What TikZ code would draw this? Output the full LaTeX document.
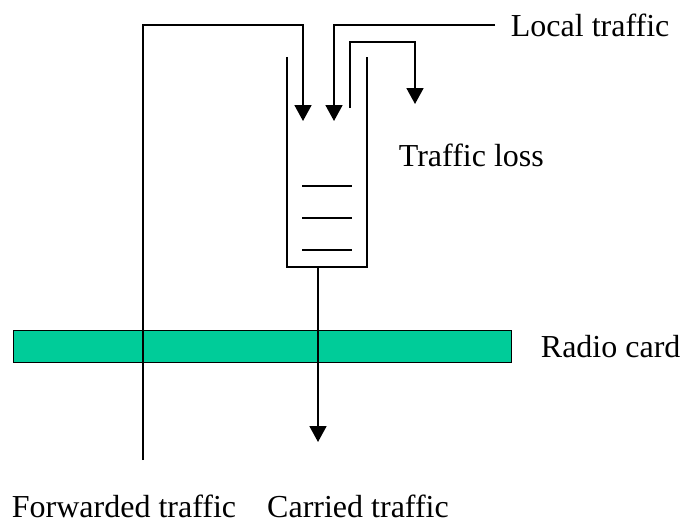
\documentclass[tikz,border=0pt]{standalone}
\usepackage{fontspec}
\setmainfont{Liberation Serif}
\usetikzlibrary{arrows.meta, positioning}
\definecolor{cardgreen}{RGB}{0,204,153}

\begin{document}
\begin{tikzpicture}[x=1pt, y=-1pt, line width=1.8pt,
    flow/.style={-{Triangle[width=17pt,length=16pt]}},
    lbl/.style={font=\fontsize{32}{36}\selectfont, inner sep=0pt}]
    \useasboundingbox (0,0) rectangle (685,527);
    % radio card
    \node[draw, fill=cardgreen, line width=1.4pt, minimum width=498pt, minimum height=32pt,
          inner sep=0pt, anchor=north west] (card) at (13,330) {};
    \node[lbl, anchor=base west] (cardlbl) at (540,357) {Radio card};
    % buffer
    \coordinate (bufl) at (287,57);
    \coordinate (bufr) at (367,57);
    \coordinate (bufout) at (318,267);
    \draw (bufl) -- (287,267) -- (367,267) -- (bufr);
    \foreach \y in {186,218,250}
        \draw (302,\y) -- (352,\y);
    % forwarded traffic
    \coordinate (fwdend) at (143,460);
    \draw[flow] (fwdend) -- (143,25) -| (303,121);
    % local traffic
    \node[lbl, anchor=base west] (local) at (510,37) {Local traffic};
    \coordinate (localin) at (495,25);
    \draw[flow] (localin) -| (334,121);
    % traffic loss
    \node[lbl, anchor=base west] (loss) at (398,166) {Traffic loss};
    \draw[flow] (350,108) |- (415,42) -- (415,104);
    % carried traffic
    \draw[flow] (bufout) -- (318,442);
    \node[lbl, anchor=base] (fwdlbl) at (124,517) {Forwarded traffic};
    \node[lbl, anchor=base] (carlbl) at (358,517) {Carried traffic};
\end{tikzpicture}
\end{document}
